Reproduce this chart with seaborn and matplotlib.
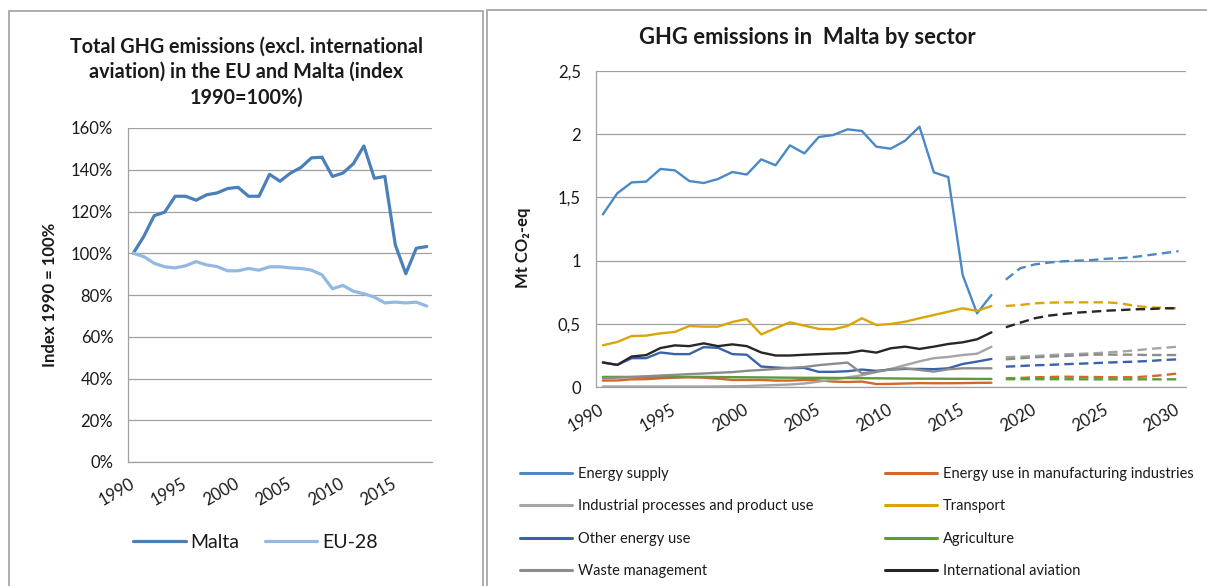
import matplotlib
matplotlib.use("Agg")
import matplotlib.pyplot as plt
import seaborn as sns
from matplotlib.lines import Line2D
from matplotlib.patches import Rectangle
from matplotlib.ticker import FuncFormatter

# Left chart: total GHG emissions, index 1990 = 100 %
years_idx = list(range(1990, 2019))
malta_idx = [100, 108, 118, 119.7, 127.3, 127.3, 125.4, 128, 128.9, 131, 131.6, 127.3,
             127.3, 137.8, 134.5, 138.4, 141.1, 145.7, 146, 136.8, 138.4, 142.9, 151.4,
             135.9, 136.8, 104, 90.2, 102.4, 103.2]
eu28_idx = [100, 98.4, 95.2, 93.5, 93, 94, 96, 94.4, 93.6, 91.6, 91.6, 92.7, 91.9, 93.5,
            93.5, 93, 92.7, 91.9, 89.7, 83, 84.6, 81.8, 80.6, 79, 76.2, 76.6, 76.2, 76.6, 74.7]

# Right chart: Malta by sector (Mt CO2-eq), history and projections
years_hist = list(range(1990, 2018))
years_proj = list(range(2018, 2031))

energy_supply = [1.366, 1.532, 1.618, 1.624, 1.724, 1.713, 1.629, 1.613, 1.645, 1.70, 1.68,
                 1.80, 1.753, 1.91, 1.847, 1.976, 1.992, 2.037, 2.024, 1.90, 1.884, 1.947,
                 2.058, 1.697, 1.66, 0.887, 0.584, 0.729]
energy_supply_proj = [0.85, 0.94, 0.97, 0.985, 0.995, 1.0, 1.005, 1.015, 1.02, 1.03, 1.045,
                      1.06, 1.075]
manufacturing = [0.053, 0.054, 0.063, 0.064, 0.071, 0.076, 0.079, 0.076, 0.068, 0.058, 0.058,
                 0.058, 0.053, 0.053, 0.058, 0.055, 0.045, 0.042, 0.045, 0.026, 0.027, 0.030,
                 0.033, 0.032, 0.032, 0.033, 0.035, 0.036]
manufacturing_proj = [0.071, 0.074, 0.079, 0.081, 0.084, 0.082, 0.081, 0.08, 0.079, 0.08,
                      0.087, 0.097, 0.11]
industrial = [0.006, 0.006, 0.006, 0.006, 0.006, 0.006, 0.006, 0.006, 0.007, 0.008, 0.010,
              0.014, 0.018, 0.022, 0.030, 0.045, 0.062, 0.078, 0.095, 0.12, 0.145, 0.175,
              0.205, 0.23, 0.24, 0.255, 0.265, 0.32]
industrial_proj = [0.237, 0.242, 0.247, 0.254, 0.26, 0.264, 0.268, 0.275, 0.282, 0.292,
                   0.303, 0.312, 0.321]
transport = [0.332, 0.358, 0.405, 0.408, 0.426, 0.437, 0.484, 0.479, 0.479, 0.516, 0.539,
             0.418, 0.466, 0.513, 0.487, 0.461, 0.458, 0.484, 0.545, 0.492, 0.50, 0.518,
             0.545, 0.571, 0.597, 0.624, 0.603, 0.642]
transport_proj = [0.642, 0.65, 0.663, 0.668, 0.671, 0.671, 0.671, 0.671, 0.663, 0.642,
                  0.632, 0.626, 0.624]
other_energy = [0.196, 0.177, 0.23, 0.23, 0.275, 0.262, 0.262, 0.317, 0.312, 0.262, 0.257,
                0.164, 0.156, 0.151, 0.153, 0.122, 0.122, 0.127, 0.14, 0.13, 0.14, 0.145,
                0.145, 0.143, 0.15, 0.184, 0.203, 0.224]
other_energy_proj = [0.163, 0.168, 0.174, 0.177, 0.182, 0.186, 0.19, 0.195, 0.199, 0.203,
                     0.208, 0.216, 0.221]
agriculture = [0.082, 0.082, 0.082, 0.082, 0.082, 0.082, 0.082, 0.082, 0.081, 0.08, 0.079,
               0.078, 0.077, 0.076, 0.075, 0.075, 0.074, 0.073, 0.072, 0.071, 0.070, 0.069,
               0.068, 0.068, 0.067, 0.067, 0.066, 0.066]
agriculture_proj = [0.064, 0.064, 0.064, 0.064, 0.064, 0.063, 0.063, 0.063, 0.063, 0.063,
                    0.063, 0.063, 0.063]
waste = [0.071, 0.076, 0.081, 0.087, 0.093, 0.098, 0.104, 0.109, 0.115, 0.12, 0.13, 0.137,
         0.145, 0.153, 0.16, 0.175, 0.185, 0.195, 0.11, 0.124, 0.142, 0.15, 0.137, 0.124,
         0.142, 0.15, 0.15, 0.15]
waste_proj = [0.221, 0.229, 0.237, 0.242, 0.247, 0.252, 0.258, 0.258, 0.258, 0.257, 0.255,
              0.255, 0.255]
aviation = [0.196, 0.177, 0.243, 0.254, 0.31, 0.331, 0.325, 0.347, 0.325, 0.339, 0.325,
            0.275, 0.251, 0.251, 0.257, 0.262, 0.267, 0.27, 0.29, 0.274, 0.308, 0.321,
            0.303, 0.321, 0.342, 0.355, 0.379, 0.434]
aviation_proj = [0.474, 0.51, 0.545, 0.566, 0.579, 0.59, 0.597, 0.605, 0.61, 0.616, 0.618,
                 0.624, 0.624]

sectors = [
    ("Energy supply", energy_supply, energy_supply_proj, "#4a89c5"),
    ("Energy use in manufacturing industries", manufacturing, manufacturing_proj, "#d4682a"),
    ("Industrial processes and product use", industrial, industrial_proj, "#a5a5a5"),
    ("Transport", transport, transport_proj, "#dba507"),
    ("Other energy use", other_energy, other_energy_proj, "#3a62ac"),
    ("Agriculture", agriculture, agriculture_proj, "#5e9a3c"),
    ("Waste management", waste, waste_proj, "#8c8c8c"),
    ("International aviation", aviation, aviation_proj, "#262626"),
]

sns.set_style("white")
plt.rcParams["font.family"] = ["Lato", "DejaVu Sans"]
plt.rcParams["text.color"] = "#1a1a1a"
plt.rcParams["xtick.color"] = "#1a1a1a"
plt.rcParams["ytick.color"] = "#1a1a1a"

W, H = 1207, 586
fig = plt.figure(figsize=(W / 100, H / 100), dpi=100)
grid_c = "#a0a0a0"

# panel frames
fig.add_artist(Rectangle((9 / W, -0.1), 474 / W, 1.1 - 11 / H, transform=fig.transFigure,
                         fill=False, ec="#a6a6a6", lw=1.3))
fig.add_artist(Rectangle((487 / W, -0.1), 0.7, 1.1 - 10 / H, transform=fig.transFigure,
                         fill=False, ec="#a6a6a6", lw=1.3))

axL = fig.add_axes([128 / W, 1 - 462 / H, 304 / W, 334 / H])
axR = fig.add_axes([595.7 / W, 1 - 387.3 / H, 590 / W, 316.6 / H])


def style_axis(ax):
    ax.set_axisbelow(True)
    ax.yaxis.grid(True, color=grid_c, lw=0.9)
    ax.xaxis.grid(False)
    for s in ["top", "right"]:
        ax.spines[s].set_visible(False)
    for s in ["left", "bottom"]:
        ax.spines[s].set_color(grid_c)
        ax.spines[s].set_linewidth(0.9)
    ax.tick_params(axis="x", which="major", length=0, pad=15, labelsize=12)
    ax.tick_params(axis="x", which="minor", length=3.6, color=grid_c, width=0.9,
                   direction="out")
    ax.tick_params(axis="y", length=3.6, color=grid_c, width=0.9, direction="out",
                   labelsize=12, pad=7)
    for lab in ax.get_xticklabels():
        lab.set_rotation(30)
        lab.set_ha("right")
        lab.set_va("center")
        lab.set_rotation_mode("anchor")
    ax.set_xlabel("")
    ax.set_ylabel("")


# ---- left chart ----
sns.lineplot(x=years_idx, y=malta_idx, ax=axL, color="#4a7fba", lw=2.3)
sns.lineplot(x=years_idx, y=eu28_idx, ax=axL, color="#93b9e3", lw=2.3)
axL.set_xlim(1989.5, 2018.5)
axL.set_ylim(0, 160)
axL.set_yticks(range(0, 161, 20))
axL.yaxis.set_major_formatter(FuncFormatter(lambda v, p: f"{int(v)}%"))
axL.set_xticks(years_idx[::5])
axL.set_xticklabels([str(y) for y in years_idx[::5]])
axL.set_xticks([y - 0.5 for y in years_idx] + [years_idx[-1] + 0.5], minor=True)
style_axis(axL)

fig.text(246 / W, 1 - 72 / H,
         "Total GHG emissions (excl. international\naviation) in the EU and Malta (index\n1990=100%)",
         ha="center", va="center", fontsize=14.2, fontweight="bold", linespacing=1.35)
fig.text(50 / W, 1 - 295 / H, "Index 1990 = 100%", rotation=90, ha="center", va="center",
         fontsize=12, fontweight="bold")

left_handles = [Line2D([], [], color="#4a7fba", lw=2.3), Line2D([], [], color="#93b9e3", lw=2.3)]
fig.legend(left_handles, ["Malta", "EU-28"], loc="center left",
           bbox_to_anchor=(133 / W, 1 - 542 / H), ncol=2, frameon=False, fontsize=14,
           handlelength=2.7, handletextpad=0.25, columnspacing=1.3, borderpad=0,
           borderaxespad=0)

# ---- right chart ----
for name, hist, proj, col in sectors:
    sns.lineplot(x=years_hist, y=hist, ax=axR, color=col, lw=1.7)
    sns.lineplot(x=years_proj, y=proj, ax=axR, color=col, lw=1.7, linestyle=(0, (4, 2.2)))
axR.set_xlim(1989.5, 2030.5)
axR.set_ylim(0, 2.5)
axR.set_yticks([0, 0.5, 1, 1.5, 2, 2.5])
axR.yaxis.set_major_formatter(FuncFormatter(lambda v, p: f"{v:g}".replace(".", ",")))
axR.set_xticks(list(range(1990, 2031, 5)))
axR.set_xticklabels([str(y) for y in range(1990, 2031, 5)])
axR.set_xticks([y - 0.5 for y in range(1990, 2031, 5)], minor=True)
style_axis(axR)

fig.text(807 / W, 1 - 38 / H, "GHG emissions in  Malta by sector", ha="center", va="center",
         fontsize=15.8, fontweight="bold")
fig.text(523 / W, 1 - 248 / H, "Mt CO\u2082-eq", rotation=90, ha="center", va="center",
         fontsize=12, fontweight="bold")

col1 = [sectors[i] for i in (0, 2, 4, 6)]
col2 = [sectors[i] for i in (1, 3, 5, 7)]
for entries, x0 in ((col1, 520), (col2, 885)):
    hs = [Line2D([], [], color=c, lw=2.2) for _, _, _, c in entries]
    fig.legend(hs, [n for n, _, _, _ in entries], loc="center left",
               bbox_to_anchor=(x0 / W, 1 - 522.5 / H), frameon=False, fontsize=10.5,
               handlelength=3.55, handletextpad=0.4, labelspacing=1.25, borderpad=0,
               borderaxespad=0)

fig.savefig("out.png", dpi=100)
